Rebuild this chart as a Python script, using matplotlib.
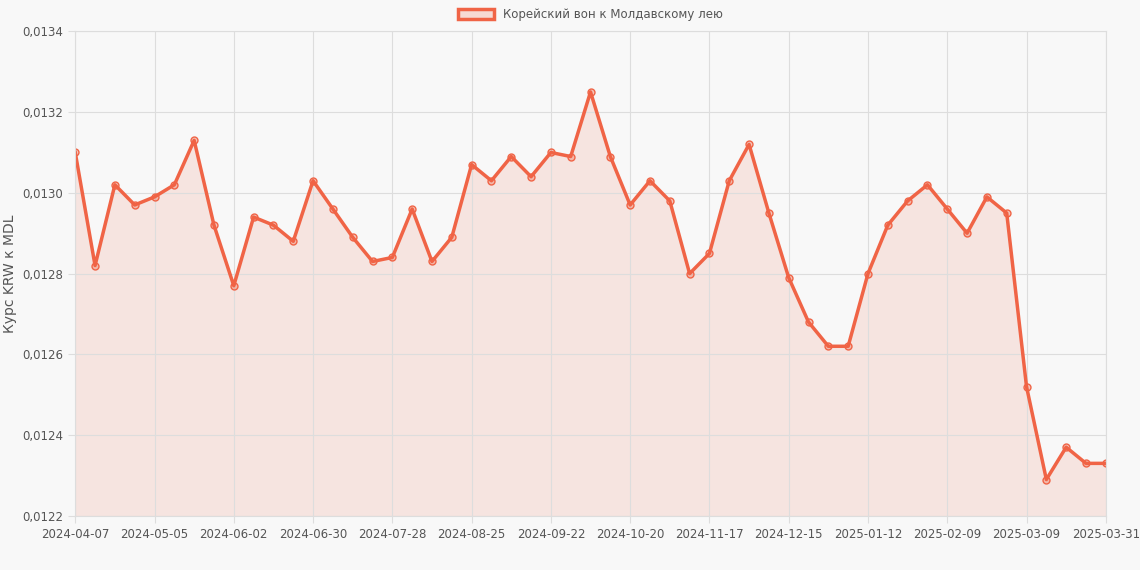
import matplotlib
matplotlib.use("Agg")
import matplotlib.pyplot as plt
from matplotlib.patches import Patch

values = [0.01310,0.01282,0.01302,0.01297,0.01299,0.01302,0.01313,0.01292,0.01277,0.01294,
0.01292,0.01288,0.01303,0.01296,0.01289,0.01283,0.01284,0.01296,0.01283,0.01289,
0.01307,0.01303,0.01309,0.01304,0.01310,0.01309,0.01325,0.01309,0.01297,0.01303,
0.01298,0.01280,0.01285,0.01303,0.01312,0.01295,0.01279,0.01268,0.01262,0.01262,
0.01280,0.01292,0.01298,0.01302,0.01296,0.01290,0.01299,0.01295,0.01252,0.01229,
0.01237,0.01233,0.01233]
tick_labels = ["2024-04-07","2024-05-05","2024-06-02","2024-06-30","2024-07-28","2024-08-25",
"2024-09-22","2024-10-20","2024-11-17","2024-12-15","2025-01-12","2025-02-09","2025-03-09","2025-03-31"]
tick_pos = list(range(0, 49, 4)) + [len(values)-1]
yticks = [0.0122,0.0124,0.0126,0.0128,0.0130,0.0132,0.0134]

c = "#f06446"
fig = plt.figure(figsize=(11.4,5.7), dpi=100, facecolor="#f8f8f8")
ax = fig.add_axes([0.066, 0.095, 0.904, 0.85])
ax.set_facecolor("#f8f8f8")
x = list(range(len(values)))
ax.fill_between(x, values, 0.0122, color=c, alpha=0.13, lw=0)
ax.plot(x, values, color=c, lw=2.5, marker="o", ms=5, mfc=(0.94,0.39,0.27,0.35), mec=c, mew=1)
ax.set_xlim(0, len(values)-1)
ax.set_ylim(0.0122, 0.0134)
ax.set_yticks(yticks)
ax.set_yticklabels([f"{v:.4f}".replace(".", ",") for v in yticks])
ax.set_xticks(tick_pos)
ax.set_xticklabels(tick_labels)
ax.grid(color="#dddddd", lw=0.8)
for s in ax.spines.values():
    s.set_color("#dddddd")
ax.tick_params(colors="#555555", labelsize=8.5, length=5, color="#dddddd")
ax.set_ylabel("Курс KRW к MDL", color="#555555", fontsize=10)
handle = Patch(facecolor=(0.94,0.39,0.27,0.2), edgecolor=c, linewidth=2.5)
leg = ax.legend([handle], ["Корейский вон к Молдавскому лею"], loc="lower center",
                bbox_to_anchor=(0.5, 1.0), frameon=False, fontsize=8.5,
                handlelength=3, handleheight=0.9)
for t in leg.get_texts():
    t.set_color("#555555")
fig.savefig("out.png", dpi=100, facecolor=fig.get_facecolor())
